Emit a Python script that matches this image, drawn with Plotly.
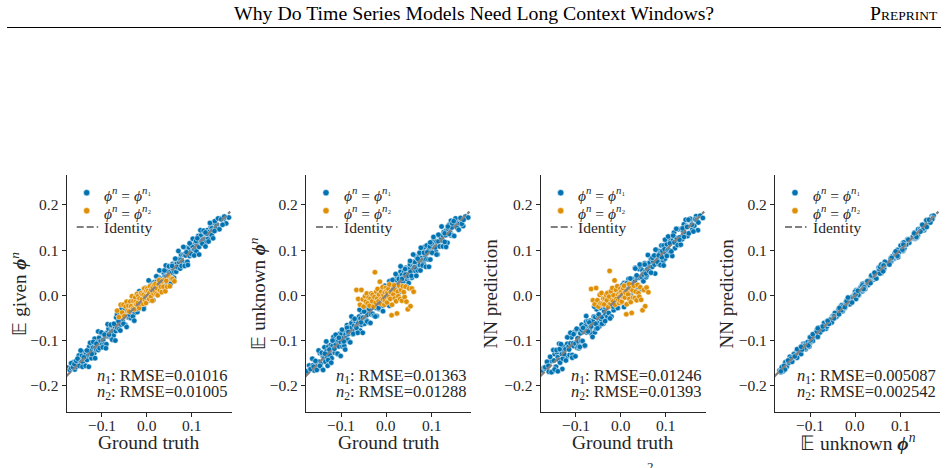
import plotly.graph_objects as go

# ---------------- data ----------------
x_tick_vals = [-0.1, 0.0, 0.1]
x_tick_text = ["\u22120.1", "0.0", "0.1"]
y_tick_vals = [-0.2, -0.1, 0.0, 0.1, 0.2]
y_tick_text = ["\u22120.2", "\u22120.1", "0.0", "0.1", "0.2"]

# series phi^n = phi^{n1} (blue)
gt_n1 = [
    -0.176, -0.171, -0.168, -0.163, -0.160, -0.157, -0.154, -0.151, -0.149, -0.147,
    -0.145, -0.144, -0.142, -0.140, -0.138, -0.137, -0.135, -0.133, -0.131, -0.130,
    -0.128, -0.126, -0.124, -0.123, -0.121, -0.119, -0.117, -0.116, -0.114, -0.112,
    -0.110, -0.108, -0.106, -0.105, -0.103, -0.101, -0.099, -0.097, -0.096, -0.094,
    -0.093, -0.091, -0.090, -0.088, -0.087, -0.085, -0.084, -0.082, -0.080, -0.079,
    -0.077, -0.076, -0.074, -0.073, -0.071, -0.069, -0.068, -0.066, -0.065, -0.063,
    -0.062, -0.060, -0.058, -0.057, -0.055, -0.054, -0.052, -0.051, -0.049, -0.048,
    -0.046, -0.045, -0.043, -0.042, -0.040, -0.039, -0.037, -0.036, -0.034, -0.033,
    -0.031, -0.030, -0.028, -0.027, -0.025, -0.024, -0.022, -0.021, -0.019, -0.018,
    -0.016, -0.015, -0.013, -0.012, -0.010, -0.009, -0.007, -0.006, -0.004, -0.003,
    -0.002, -0.001, 0.001, 0.002, 0.004, 0.005, 0.007, 0.008, 0.010, 0.011,
    0.013, 0.014, 0.016, 0.017, 0.019, 0.020, 0.022, 0.023, 0.025, 0.026,
    0.028, 0.029, 0.031, 0.032, 0.034, 0.035, 0.037, 0.038, 0.040, 0.041,
    0.043, 0.044, 0.046, 0.047, 0.048, 0.050, 0.051, 0.053, 0.054, 0.056,
    0.057, 0.059, 0.061, 0.062, 0.064, 0.065, 0.067, 0.068, 0.070, 0.072,
    0.073, 0.075, 0.076, 0.078, 0.079, 0.081, 0.083, 0.084, 0.086, 0.087,
    0.089, 0.090, 0.092, 0.094, 0.095, 0.097, 0.098, 0.100, 0.102, 0.104,
    0.106, 0.108, 0.110, 0.112, 0.114, 0.116, 0.118, 0.120, 0.122, 0.124,
    0.126, 0.128, 0.130, 0.132, 0.134, 0.136, 0.138, 0.140, 0.142, 0.144,
    0.146, 0.148, 0.151, 0.155, 0.159, 0.163, 0.167, 0.171, 0.176, 0.182,
    -0.168, -0.164, -0.161, -0.157, -0.154, -0.150, -0.147, -0.143, -0.140, -0.136,
    -0.133, -0.129, -0.126, -0.122, -0.119, -0.115, -0.112, -0.108, -0.105, -0.101,
    -0.098, -0.094, -0.091, -0.087, -0.084, -0.080, -0.077, -0.073, -0.070, -0.066,
    -0.063, -0.059, -0.056, -0.052, -0.049, -0.045, -0.042, -0.038, -0.035, -0.031,
    -0.028, -0.024, -0.021, -0.017, -0.014, -0.010, -0.007, -0.003, 0.000, 0.004,
    0.007, 0.011, 0.014, 0.018, 0.021, 0.025, 0.028, 0.032, 0.035, 0.039,
    0.042, 0.046, 0.049, 0.053, 0.056, 0.060, 0.063, 0.067, 0.070, 0.074,
    0.077, 0.081, 0.084, 0.088, 0.091, 0.095, 0.098, 0.102, 0.105, 0.109,
    0.112, 0.116, 0.119, 0.123, 0.126, 0.130, 0.133, 0.137, 0.140, 0.144,
    0.147, 0.151, 0.154, 0.158, 0.161, 0.165, 0.168, 0.172, 0.150, 0.130,
]
given_n1 = [
    -0.160, -0.165, -0.161, -0.148, -0.164, -0.158, -0.153, -0.133, -0.156, -0.141,
    -0.147, -0.133, -0.149, -0.140, -0.125, -0.156, -0.130, -0.143, -0.123, -0.133,
    -0.114, -0.132, -0.122, -0.139, -0.112, -0.115, -0.128, -0.096, -0.115, -0.120,
    -0.104, -0.121, -0.094, -0.110, -0.102, -0.084, -0.108, -0.099, -0.086, -0.108,
    -0.090, -0.084, -0.108, -0.083, -0.091, -0.074, -0.091, -0.067, -0.092, -0.079,
    -0.068, -0.079, -0.089, -0.065, -0.069, -0.079, -0.049, -0.072, -0.061, -0.064,
    -0.075, -0.048, -0.052, -0.065, -0.039, -0.056, -0.063, -0.048, -0.042, -0.065,
    -0.045, -0.035, -0.048, -0.028, -0.049, -0.042, -0.029, -0.050, -0.029, -0.022,
    -0.037, -0.028, -0.010, -0.039, -0.025, -0.017, -0.026, -0.037, -0.006, -0.015,
    -0.024, -0.006, -0.014, 0.003, -0.020, -0.005, -0.026, 0.000, 0.008, -0.006,
    0.003, -0.008, 0.014, 0.000, -0.010, 0.014, 0.008, -0.003, 0.027, 0.007,
    0.004, 0.020, 0.015, 0.029, 0.003, 0.023, 0.030, 0.018, 0.025, 0.040,
    0.038, 0.017, 0.035, 0.025, 0.053, 0.032, 0.029, 0.049, 0.042, 0.026,
    0.041, 0.059, 0.036, 0.053, 0.044, 0.063, 0.033, 0.054, 0.062, 0.050,
    0.069, 0.058, 0.052, 0.067, 0.080, 0.052, 0.070, 0.061, 0.080, 0.072,
    0.062, 0.079, 0.090, 0.075, 0.073, 0.090, 0.068, 0.091, 0.088, 0.105,
    0.096, 0.074, 0.092, 0.105, 0.087, 0.095, 0.111, 0.090, 0.107, 0.100,
    0.101, 0.116, 0.097, 0.115, 0.131, 0.107, 0.119, 0.132, 0.115, 0.123,
    0.142, 0.124, 0.136, 0.118, 0.144, 0.125, 0.140, 0.134, 0.151, 0.148,
    0.143, 0.161, 0.143, 0.155, 0.147, 0.170, 0.168, 0.169, 0.159, 0.172,
    -0.150, -0.159, -0.152, -0.145, -0.140, -0.156, -0.122, -0.158, -0.137, -0.156,
    -0.122, -0.158, -0.105, -0.130, -0.103, -0.139, -0.107, -0.080, -0.117, -0.082,
    -0.115, -0.087, -0.117, -0.064, -0.087, -0.065, -0.098, -0.063, -0.100, -0.042,
    -0.057, -0.078, -0.029, -0.063, -0.029, -0.070, -0.029, -0.043, -0.013, -0.047,
    -0.056, -0.007, -0.030, 0.009, -0.028, -0.002, -0.030, 0.016, -0.002, 0.033,
    -0.011, 0.023, -0.011, 0.022, 0.042, 0.012, 0.055, 0.025, 0.015, 0.055,
    0.066, 0.036, 0.064, 0.026, 0.065, 0.039, 0.081, 0.063, 0.098, 0.059,
    0.065, 0.107, 0.065, 0.095, 0.067, 0.115, 0.092, 0.125, 0.088, 0.120,
    0.126, 0.090, 0.144, 0.114, 0.143, 0.108, 0.136, 0.119, 0.160, 0.133,
    0.126, 0.164, 0.147, 0.170, 0.146, 0.168, 0.156, 0.174, 0.142, 0.139,
]
unknown_n1 = [
    -0.168, -0.155, -0.163, -0.155, -0.166, -0.145, -0.149, -0.160, -0.147, -0.128,
    -0.152, -0.161, -0.131, -0.136, -0.139, -0.115, -0.147, -0.124, -0.136, -0.156,
    -0.113, -0.126, -0.133, -0.110, -0.139, -0.112, -0.092, -0.120, -0.127, -0.109,
    -0.100, -0.130, -0.100, -0.113, -0.085, -0.103, -0.085, -0.113, -0.095, -0.105,
    -0.112, -0.082, -0.087, -0.094, -0.066, -0.099, -0.085, -0.070, -0.104, -0.072,
    -0.061, -0.081, -0.086, -0.053, -0.067, -0.078, -0.057, -0.069, -0.082, -0.055,
    -0.062, -0.047, -0.078, -0.051, -0.065, -0.037, -0.059, -0.049, -0.026, -0.063,
    -0.050, -0.035, -0.056, -0.043, -0.025, -0.060, -0.028, -0.031, -0.042, -0.019,
    -0.012, -0.041, -0.026, -0.045, -0.018, -0.012, -0.028, -0.046, -0.015, -0.007,
    -0.030, -0.012, 0.004, -0.021, -0.012, 0.012, -0.023, 0.002, -0.004, -0.009,
    0.010, -0.020, 0.006, 0.016, -0.007, 0.002, 0.031, 0.000, 0.016, -0.002,
    0.012, 0.023, 0.001, 0.035, 0.014, 0.022, 0.000, 0.034, 0.041, 0.019,
    0.036, 0.017, 0.027, 0.052, 0.018, 0.045, 0.038, 0.029, 0.053, 0.021,
    0.046, 0.061, 0.036, 0.041, 0.059, 0.027, 0.058, 0.068, 0.052, 0.042,
    0.039, 0.064, 0.074, 0.061, 0.073, 0.054, 0.086, 0.063, 0.055, 0.078,
    0.087, 0.067, 0.055, 0.082, 0.095, 0.078, 0.071, 0.106, 0.079, 0.088,
    0.080, 0.110, 0.094, 0.079, 0.101, 0.108, 0.079, 0.096, 0.114, 0.094,
    0.124, 0.106, 0.097, 0.119, 0.090, 0.119, 0.132, 0.109, 0.127, 0.133,
    0.120, 0.140, 0.113, 0.133, 0.144, 0.116, 0.146, 0.156, 0.139, 0.132,
    0.150, 0.133, 0.160, 0.166, 0.151, 0.158, 0.170, 0.153, 0.174, 0.172,
    -0.163, -0.140, -0.158, -0.145, -0.165, -0.122, -0.156, -0.127, -0.165, -0.129,
    -0.102, -0.143, -0.120, -0.149, -0.100, -0.118, -0.087, -0.129, -0.094, -0.134,
    -0.076, -0.102, -0.120, -0.072, -0.081, -0.104, -0.047, -0.085, -0.052, -0.072,
    -0.083, -0.032, -0.060, -0.083, -0.036, -0.024, -0.058, -0.030, -0.061, 0.002,
    -0.019, -0.047, 0.008, -0.028, -0.016, 0.007, -0.035, 0.021, -0.007, 0.018,
    -0.023, 0.016, 0.034, 0.001, 0.047, 0.016, 0.006, 0.064, 0.036, 0.020,
    0.058, 0.019, 0.043, 0.076, 0.043, 0.090, 0.062, 0.043, 0.081, 0.094,
    0.105, 0.066, 0.094, 0.063, 0.095, 0.063, 0.117, 0.094, 0.129, 0.106,
    0.090, 0.134, 0.108, 0.152, 0.108, 0.137, 0.107, 0.152, 0.136, 0.165,
    0.159, 0.131, 0.170, 0.149, 0.145, 0.171, 0.158, 0.167, 0.164, 0.118,
]
nn_n1 = [
    -0.166, -0.160, -0.162, -0.148, -0.169, -0.145, -0.145, -0.168, -0.144, -0.130,
    -0.158, -0.158, -0.126, -0.137, -0.143, -0.107, -0.149, -0.123, -0.130, -0.163,
    -0.113, -0.122, -0.136, -0.119, -0.137, -0.107, -0.093, -0.114, -0.132, -0.106,
    -0.093, -0.132, -0.106, -0.112, -0.081, -0.107, -0.076, -0.116, -0.095, -0.103,
    -0.117, -0.076, -0.084, -0.101, -0.065, -0.101, -0.080, -0.070, -0.112, -0.068,
    -0.058, -0.082, -0.079, -0.057, -0.073, -0.076, -0.056, -0.061, -0.085, -0.060,
    -0.057, -0.047, -0.082, -0.048, -0.074, -0.031, -0.061, -0.045, -0.025, -0.069,
    -0.051, -0.028, -0.054, -0.048, -0.022, -0.063, -0.035, -0.026, -0.042, -0.011,
    -0.008, -0.047, -0.025, -0.039, -0.020, -0.020, -0.025, -0.047, -0.008, -0.011,
    -0.033, -0.010, -0.003, -0.021, -0.007, 0.016, -0.028, 0.011, -0.006, -0.008,
    0.008, -0.015, 0.005, 0.009, -0.004, 0.002, 0.027, 0.008, 0.013, 0.000,
    0.018, 0.020, -0.004, 0.036, 0.018, 0.014, 0.002, 0.033, 0.035, 0.026,
    0.036, 0.013, 0.030, 0.061, 0.016, 0.040, 0.039, 0.023, 0.058, 0.018,
    0.039, 0.063, 0.042, 0.040, 0.055, 0.031, 0.049, 0.071, 0.052, 0.040,
    0.044, 0.058, 0.071, 0.068, 0.072, 0.056, 0.081, 0.063, 0.063, 0.074,
    0.084, 0.068, 0.048, 0.086, 0.101, 0.076, 0.070, 0.098, 0.082, 0.093,
    0.075, 0.110, 0.098, 0.076, 0.110, 0.102, 0.081, 0.092, 0.113, 0.100,
    0.125, 0.099, 0.095, 0.124, 0.087, 0.122, 0.139, 0.104, 0.127, 0.125,
    0.116, 0.146, 0.112, 0.127, 0.146, 0.124, 0.143, 0.157, 0.132, 0.136,
    0.153, 0.131, 0.167, 0.166, 0.146, 0.154, 0.175, 0.144, 0.176, 0.171,
    -0.159, -0.147, -0.156, -0.136, -0.170, -0.121, -0.164, -0.121, -0.168, -0.119,
    -0.108, -0.140, -0.130, -0.144, -0.093, -0.120, -0.083, -0.138, -0.086, -0.135,
    -0.074, -0.113, -0.114, -0.076, -0.072, -0.111, -0.046, -0.080, -0.060, -0.069,
    -0.092, -0.025, -0.063, -0.073, -0.042, -0.022, -0.063, -0.022, -0.057, -0.008,
    -0.013, -0.051, 0.000, -0.025, -0.005, 0.001, -0.028, 0.019, -0.016, 0.023,
    -0.026, 0.025, 0.027, 0.002, 0.037, 0.022, 0.010, 0.059, 0.044, 0.018,
    0.068, 0.014, 0.046, 0.068, 0.048, 0.089, 0.053, 0.050, 0.083, 0.088,
    0.101, 0.074, 0.088, 0.067, 0.084, 0.066, 0.123, 0.087, 0.130, 0.115,
    0.097, 0.132, 0.117, 0.147, 0.111, 0.128, 0.112, 0.148, 0.129, 0.167,
    0.151, 0.137, 0.169, 0.156, 0.141, 0.168, 0.166, 0.161, 0.167, 0.123,
]

# series phi^n = phi^{n2} (orange)
gt_n2 = [
    -0.066, -0.062, -0.058, -0.055, -0.052, -0.050, -0.047, -0.045, -0.043, -0.041,
    -0.039, -0.037, -0.035, -0.033, -0.031, -0.030, -0.028, -0.026, -0.025, -0.023,
    -0.022, -0.020, -0.019, -0.017, -0.016, -0.014, -0.013, -0.011, -0.010, -0.008,
    -0.007, -0.006, -0.004, -0.003, -0.002, -0.001, 0.000, 0.001, 0.002, 0.003,
    0.005, 0.006, 0.007, 0.009, 0.010, 0.012, 0.013, 0.015, 0.016, 0.018,
    0.019, 0.021, 0.022, 0.024, 0.026, 0.027, 0.029, 0.031, 0.033, 0.035,
    0.037, 0.039, 0.041, 0.043, 0.045, 0.048, 0.051, 0.054, 0.057, 0.061,
]
given_n2 = [
    -0.034, -0.048, -0.021, -0.038, -0.021, -0.046, -0.025, -0.014, -0.034, -0.023,
    -0.036, -0.014, -0.024, -0.002, -0.029, -0.013, -0.031, -0.005, -0.015, -0.020,
    0.003, -0.017, -0.001, -0.028, -0.007, -0.019, 0.005, -0.009, 0.002, -0.019,
    0.001, 0.015, -0.012, -0.002, -0.017, 0.010, -0.006, 0.015, -0.002, 0.010,
    -0.008, 0.006, 0.020, -0.003, 0.012, -0.012, 0.018, 0.004, 0.023, 0.009,
    0.025, 0.003, 0.016, 0.000, 0.024, 0.034, 0.011, 0.019, 0.007, 0.031,
    0.019, 0.034, 0.009, 0.032, 0.019, 0.043, 0.020, 0.037, 0.036, 0.031,
]
unknown_n2 = [
    0.012, -0.008, -0.021, 0.012, -0.009, -0.025, -0.002, -0.014, 0.004, -0.018,
    -0.005, -0.023, -0.007, 0.004, -0.013, 0.001, -0.025, -0.004, 0.051, -0.016,
    0.008, -0.007, 0.014, -0.013, 0.002, 0.030, -0.018, 0.008, -0.007, 0.018,
    -0.009, 0.001, -0.021, 0.007, -0.012, 0.016, -0.003, 0.010, -0.016, 0.006,
    0.014, -0.004, 0.024, -0.008, 0.007, -0.044, -0.021, 0.013, 0.002, 0.022,
    -0.007, 0.011, -0.013, -0.040, 0.008, -0.002, 0.021, -0.008, 0.012, -0.012,
    0.020, 0.007, -0.004, 0.019, -0.014, -0.031, 0.015, -0.024, 0.015, 0.008,
]
nn_n2 = [
    0.014, -0.011, -0.020, 0.016, -0.011, -0.025, 0.001, -0.018, 0.005, -0.019,
    -0.007, -0.020, -0.007, 0.001, -0.011, 0.005, -0.026, -0.003, 0.054, -0.018,
    0.009, -0.011, 0.016, -0.013, 0.000, 0.033, -0.021, 0.012, -0.008, 0.020,
    -0.012, 0.002, -0.017, 0.005, -0.012, 0.015, 0.000, 0.008, -0.014, 0.002,
    0.016, -0.004, 0.021, -0.005, 0.006, -0.042, -0.020, 0.009, 0.002, 0.025,
    -0.008, 0.015, -0.015, -0.039, 0.011, -0.005, 0.021, -0.006, 0.008, -0.011,
    0.023, 0.005, -0.003, 0.018, -0.010, -0.033, 0.012, -0.024, 0.017, 0.007,
]

identity_line = [-0.18, 0.185]

rmse_n1 = ["0.01016", "0.01363", "0.01246", "0.005087"]
rmse_n2 = ["0.01005", "0.01288", "0.01393", "0.002542"]

PHI_N = "<b><i>\u03d5</i></b><sup><i>n</i></sup>"
x_titles = ["Ground truth", "Ground truth", "Ground truth", "\U0001D53C unknown " + PHI_N]
y_titles = ["\U0001D53C given " + PHI_N, "\U0001D53C unknown " + PHI_N, "NN prediction", "NN prediction"]
name_n1 = "<i>\u03d5</i><sup><i>n</i></sup> = <i>\u03d5</i><sup><i>n</i>\u2081</sup>"
name_n2 = "<i>\u03d5</i><sup><i>n</i></sup> = <i>\u03d5</i><sup><i>n</i>\u2082</sup>"
name_id = "Identity"

header_title = "Why Do Time Series Models Need Long Context Windows?"

# ---------------- layout constants ----------------
W, H = 948, 468
BLUE, ORANGE, GREY = "#0173b2", "#de8f05", "#808080"
INK = "#262626"
FONT = "Liberation Serif"
spine_x = [66.7, 306.0, 540.7, 775.0]
ax_w = 165.3
top_px, bot_px = 175.0, 412.0
ylab_x = [18.0, 257.0, 490.0, 726.0]
x_range = [-0.178, 0.189]
y_range = [-0.258, 0.266]
leg_rows = [192.7, 210.7, 227.0]

panels = [
    (gt_n1, given_n1, gt_n2, given_n2),
    (gt_n1, unknown_n1, gt_n2, unknown_n2),
    (gt_n1, nn_n1, gt_n2, nn_n2),
    (unknown_n1, nn_n1, unknown_n2, nn_n2),
]


def px(x):
    return x / W


def py(y):
    return 1 - y / H


fig = go.Figure()
layout = dict(
    width=W, height=H, margin=dict(l=0, r=0, t=0, b=0),
    paper_bgcolor="white", plot_bgcolor="white",
    font=dict(family=FONT, color=INK, size=15),
    showlegend=False,
)
annotations = []
shapes = []

for i, (xb, yb, xo, yo) in enumerate(panels):
    sfx = "" if i == 0 else str(i + 1)
    xa, ya = "x" + sfx, "y" + sfx
    mk = dict(size=5.5, line=dict(color="white", width=0.5))
    tb = go.Scatter(x=xb, y=yb, mode="markers", name=name_n1,
                    marker=dict(color=BLUE, **mk), xaxis=xa, yaxis=ya)
    to = go.Scatter(x=xo, y=yo, mode="markers", name=name_n2,
                    marker=dict(color=ORANGE, **mk), xaxis=xa, yaxis=ya)
    tl = go.Scatter(x=identity_line, y=identity_line, mode="lines", name=name_id,
                    line=dict(color=GREY, width=2.2, dash="7px,3px"), xaxis=xa, yaxis=ya)
    if i == 3:
        fig.add_traces([to, tb, tl])
    else:
        fig.add_traces([tb, to, tl])

    sx = spine_x[i]
    axis_common = dict(showline=True, linecolor=INK, linewidth=1.25, ticks="outside",
                       ticklen=4, tickwidth=1.25, tickcolor=INK, showgrid=False,
                       zeroline=False, tickfont=dict(size=15.5, family=FONT, color=INK),
                       fixedrange=True)
    layout["xaxis" + sfx] = dict(domain=[px(sx), px(sx + ax_w)], range=x_range, anchor=ya,
                                 tickvals=x_tick_vals, showticklabels=False, **axis_common)
    layout["yaxis" + sfx] = dict(domain=[py(bot_px), py(top_px)], range=y_range, anchor=xa,
                                 tickvals=y_tick_vals, ticktext=y_tick_text, **axis_common)
    # x tick labels placed on the axis scale (exact vertical position as the reference)
    for tv, tt in zip(x_tick_vals, x_tick_text):
        annotations.append(dict(text=tt, xref=xa, yref="paper", x=tv, y=py(425),
                                xanchor="center", yanchor="middle", showarrow=False,
                                font=dict(size=15.5, family=FONT, color=INK)))

    # legend (drawn by hand so that its compact spacing matches)
    for row, col in ((0, BLUE), (1, ORANGE)):
        shapes.append(dict(type="circle", xref="paper", yref="paper",
                           xsizemode="pixel", ysizemode="pixel",
                           xanchor=px(sx + 20), yanchor=py(leg_rows[row]),
                           x0=-3.2, x1=3.2, y0=-3.2, y1=3.2,
                           fillcolor=col, line=dict(color="white", width=0.6)))
    shapes.append(dict(type="line", xref="paper", yref="paper",
                       x0=px(sx + 10), x1=px(sx + 31.5), y0=py(leg_rows[2]), y1=py(leg_rows[2]),
                       line=dict(color=GREY, width=2.2, dash="7px,3px")))
    for row, txt in enumerate([name_n1, name_n2, name_id]):
        annotations.append(dict(text=txt, xref="paper", yref="paper",
                                x=px(sx + 35.5), y=py(leg_rows[row] + (1.5 if row < 2 else 0)),
                                xanchor="left", yanchor="middle", showarrow=False,
                                font=dict(size=15.5, family=FONT, color=INK)))

    # axis titles
    annotations.append(dict(text=x_titles[i], xref="paper", yref="paper",
                            x=px(sx + ax_w / 2), y=py(442), xanchor="center", yanchor="middle",
                            showarrow=False, font=dict(size=19.5, family=FONT, color=INK)))
    annotations.append(dict(text=y_titles[i], xref="paper", yref="paper", textangle=-90,
                            x=px(ylab_x[i]), y=py((top_px + bot_px) / 2), xanchor="center",
                            yanchor="middle", showarrow=False,
                            font=dict(size=19, family=FONT, color=INK)))
    # RMSE text
    annotations.append(dict(text="<i>n</i><sub>1</sub>: RMSE=" + rmse_n1[i], xref="paper", yref="paper",
                            x=px(sx + ax_w - 2), y=py(375.5), xanchor="right", yanchor="middle",
                            showarrow=False, font=dict(size=16.5, family=FONT, color=INK)))
    annotations.append(dict(text="<i>n</i><sub>2</sub>: RMSE=" + rmse_n2[i], xref="paper", yref="paper",
                            x=px(sx + ax_w - 2), y=py(391.5), xanchor="right", yanchor="middle",
                            showarrow=False, font=dict(size=16.5, family=FONT, color=INK)))

# page header
annotations.append(dict(text=header_title, xref="paper", yref="paper", x=px(474), y=py(13),
                        xanchor="center", yanchor="middle", showarrow=False,
                        font=dict(size=19.8, family=FONT, color="black")))
annotations.append(dict(text="P<span style='font-size:13.5px'>REPRINT</span>", xref="paper", yref="paper",
                        x=px(940), y=py(13), xanchor="right", yanchor="middle", showarrow=False,
                        font=dict(size=19.8, family=FONT, color="black")))
# fragment of the caption cut by the page edge
annotations.append(dict(text="2", xref="paper", yref="paper", x=px(650), y=py(457),
                        xanchor="center", yanchor="top", showarrow=False,
                        font=dict(size=13, family=FONT, color=INK)))
shapes.append(dict(type="line", xref="paper", yref="paper", x0=px(7), x1=px(941),
                   y0=py(27.5), y1=py(27.5), line=dict(color="black", width=1)))

layout["annotations"] = annotations
layout["shapes"] = shapes
fig.update_layout(**layout)
fig.write_html("out.html")
